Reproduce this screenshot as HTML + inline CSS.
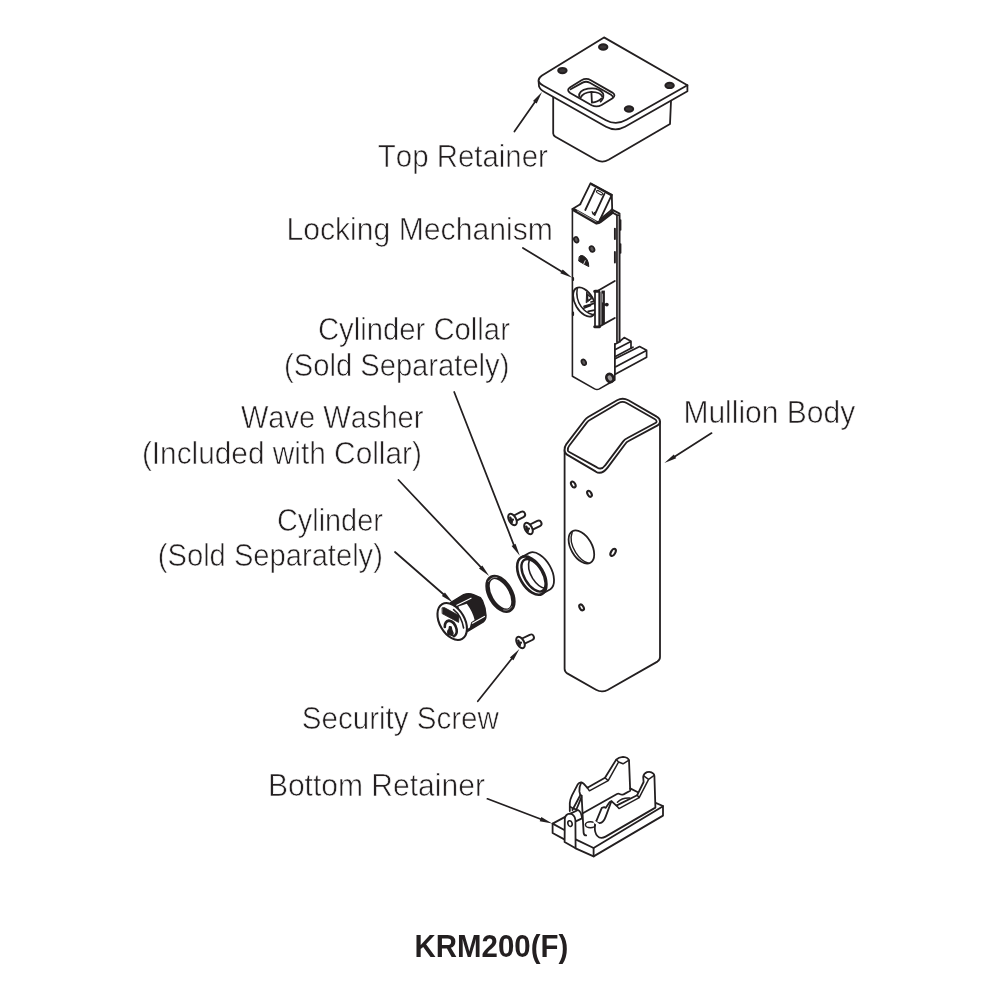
<!DOCTYPE html>
<html lang="en">
<head>
<meta charset="utf-8">
<title>KRM200(F)</title>
<style>
html,body{margin:0;padding:0;background:#fff;}
body{width:1000px;height:1000px;overflow:hidden;}
svg{display:block;will-change:transform;}
.ln{fill:none;stroke:#231f20;stroke-width:1.8;stroke-linecap:round;stroke-linejoin:round;}
.lbl{font-family:"Liberation Sans",sans-serif;fill:#231f20;font-kerning:none;stroke-linejoin:round;}
</style>
</head>
<body>
<svg width="1000" height="1000" viewBox="0 0 1000 1000" role="img" aria-label="KRM200(F) exploded parts diagram">
<rect width="1000" height="1000" fill="#fff"/>
<g class="ln" id="arrows">
<line x1="514.4" y1="131.6" x2="536.0" y2="100.5" stroke-width="1.75"/><polygon points="542.0,91.9 536.7,103.4 533.0,100.9" fill="#231f20" stroke="none"/>
<line x1="522.9" y1="248.0" x2="563.2" y2="272.4" stroke-width="1.75"/><polygon points="572.2,277.8 560.3,273.3 562.7,269.4" fill="#231f20" stroke="none"/>
<line x1="454.2" y1="392.0" x2="514.5" y2="546.7" stroke-width="1.75"/><polygon points="519.8,555.8 511.6,546.1 515.5,543.8" fill="#231f20" stroke="none"/>
<line x1="398.5" y1="480.0" x2="482.0" y2="568.4" stroke-width="1.75"/><polygon points="489.2,576.0 479.0,568.5 482.3,565.4" fill="#231f20" stroke="none"/>
<line x1="395.0" y1="552.0" x2="444.9" y2="595.5" stroke-width="1.75"/><polygon points="452.8,602.4 441.9,595.9 444.9,592.5" fill="#231f20" stroke="none"/>
<line x1="477.8" y1="701.2" x2="512.9" y2="657.2" stroke-width="1.75"/><polygon points="519.4,649.0 513.4,660.2 509.9,657.4" fill="#231f20" stroke="none"/>
<line x1="487.4" y1="798.8" x2="542.4" y2="819.8" stroke-width="1.75"/><polygon points="552.2,823.6 539.7,821.2 541.3,817.0" fill="#231f20" stroke="none"/>
<line x1="711.6" y1="433.1" x2="673.3" y2="457.4" stroke-width="1.75"/><polygon points="664.4,463.0 673.8,454.4 676.2,458.2" fill="#231f20" stroke="none"/>
</g>
<g class="ln" id="top_retainer">
<path d="M553.2,97 V133.6 Q553.2,135.4 555.4,136.8 L596.4,160 Q602.4,163.2 608.6,159.8 L670,124 L671,101" />
<path d="M538.6,81 L539,86.2 Q540,89.6 545,92.2 L606,126.8 Q615.5,132 625,126.8 L687.4,91.2 V85.2" fill="#fff"/>
<path d="M604,37.4 L687.4,85.2 L626.5,119.8 Q616,125.8 606,120.2 L543.5,85.8 Q534.5,80.8 542,75.6 Z" fill="#fff"/>
<g fill="#3a3637" stroke-width="2">
<ellipse cx="603.2" cy="47" rx="4.2" ry="2.7"/>
<ellipse cx="562.4" cy="70.6" rx="4.2" ry="2.7"/>
<ellipse cx="669.6" cy="85.4" rx="4.2" ry="2.7"/>
<ellipse cx="629" cy="109" rx="4.2" ry="2.7"/>
</g>
<path d="M570.2,87.2 L581.5,80.3 Q586.2,77.6 590.8,80.3 L612.4,92.6 Q616.4,95.4 612.6,98.2 L601.6,105 Q596.6,107.8 591.6,105.2 L570.2,93 Q566,90 570.2,87.2 Z"/>
<path d="M570.6,89.2 L582.6,82.6 Q586.2,80.8 589.8,82.8 L611,94.8 Q613,96 612.8,97.4"/>
<path d="M579.2,96.6 Q578.4,90.4 588,88.6 Q599,87 603,93.4 Q604.6,97.6 600.6,101.6"/>
<path d="M580.6,97.6 Q583,92.4 591.4,91.8 Q600.4,92 602.2,96.4"/>
<path d="M591.4,91.8 L591.9,102.6 M591.9,102.6 Q598,102 601.6,98.4"/>
</g>
<g class="ln" id="lock">
<path d="M572.4,209 V376.3 L594.6,388.9 Q597,390.2 599.4,388.9 L614.8,380 V344" fill="#fff" stroke-width="1.6"/>
<!-- back plate band -->
<path d="M618.3,214.2 V342.8" stroke="#231f20" stroke-width="4.4" stroke-linecap="butt"/>
<path d="M618.3,216 V341.6" stroke="#a5a2a3" stroke-width="1.2" stroke-linecap="butt"/>
<path d="M620.6,220 V230 M620.6,244 V253" stroke-width="1.6"/>
<path d="M614.9,228.6 V239 M614.9,252 V262.6" stroke-width="1.9"/>
<!-- latch bolt -->
<path d="M580.3,204.2 L590.6,183.2 L611.8,194.8 L612.2,209.4 L600,219.4" fill="#fff"/>
<path d="M591.6,184.4 L611,195" stroke-width="2.1"/>
<path d="M611.8,194.8 L600,219.6"/>
<path d="M595.2,188.8 L585.3,210 M604.5,193.6 L594.6,215"/>
<path d="M597.6,191.6 L601.4,193.7" stroke-width="3.4"/>
<path d="M597.7,191.7 L601.3,193.6" stroke="#fff" stroke-width="1.3"/>
<path d="M592.2,211.8 L593.2,214.4 L594.6,212.4" stroke-width="1.2"/>
<!-- body top -->
<path d="M572.4,209 L580.3,204.2"/>
<path d="M574.2,210 L596.4,222.6" stroke-width="3.7"/>
<path d="M597,222.6 Q598.6,222.8 599.8,221.8 L612.2,212.4" stroke-width="3.4"/>
<path d="M577.4,211 L596,221.6" stroke="#a9a7a7" stroke-width="0.9"/>
<path d="M611.6,209.4 L619.6,213.6 M611.8,212.2 L616.2,214.6"/>
<!-- holes -->
<g fill="#5c5859" stroke-width="1.7">
<ellipse cx="576.2" cy="239.8" rx="2.1" ry="2.9" transform="rotate(-25 576.2 239.8)"/>
<ellipse cx="592" cy="249" rx="2.3" ry="3" transform="rotate(-25 592 249)"/>
<ellipse cx="583.8" cy="362.2" rx="2.1" ry="3" transform="rotate(-25 583.8 362.2)"/>
</g>
<path d="M579.4,256.4 Q580.4,254.8 583,255.8 Q588.6,258.6 588.8,266.6 L584.6,264.4 L579,261.2 Z" fill="#231f20" stroke-width="1"/>
<path d="M585.2,260.6 L583.8,263.8" stroke="#eee" stroke-width="0.9"/>
<!-- left edge ticks -->
<path d="M573,278 V280 M573,312.6 V315" stroke-width="2.2"/>
<!-- cylinder hole -->
<ellipse cx="584.4" cy="302" rx="9.2" ry="16" stroke-width="1.8" transform="rotate(-30 584.4 302)"/>
<path d="M577.2,288.6 Q575.6,298.6 581,306.4 Q586,313.4 592.6,314.4" stroke-width="1.5"/>
<path d="M586.6,292.4 L586.2,302.8 L592,298.6 Z" fill="#231f20" stroke-width="1"/>
<path d="M588.2,296 L588.4,299.4 L590.6,298" fill="#fff" stroke="none"/>
<path d="M584,306.2 L593.4,303.6 M583.6,308.2 L590.6,305.4 M588.2,311.4 L594.6,310.2 M591,302 L594,301.4" stroke-width="1.7"/>
<!-- bracket box -->
<path d="M598.8,290.2 L614.8,281 M599.2,326.6 L614.8,318"/>
<path d="M595,290.6 H599.2 V327 H595 Z" fill="#fff" stroke-width="1.7"/>
<path d="M594.6,291.4 H598.4 M594.6,326.8 H599.6" stroke-width="2.8"/>
<path d="M603.2,290.6 V324" stroke-width="3.4" stroke-linecap="butt"/>
<path d="M600.9,292 V324.6" stroke-width="1"/>
<path d="M602.4,294 V302" stroke="#d9d8d8" stroke-width="0.7"/>
<circle cx="606.8" cy="304.6" r="1.9" fill="#231f20" stroke="none"/>
<path d="M604,304.6 H606" stroke-width="1.6"/>
<!-- tabs -->
<g stroke-width="1.7"><path d="M614.8,344.2 L618.4,342.4 M620.2,341 L624.2,337.6 L631,341.2 V348.2 L615.4,356.4 M615.4,349.4 L630.8,341.4"/>
<path d="M615.6,358.6 L639.6,346.6 L646.6,350.2 V357.2 L615.2,374.2 M615.8,366.8 L646.4,350.4 M631,348.2 L633,347.2"/>
<path d="M614.8,344 V374.6" stroke-width="1.3"/></g>
<!-- screw -->
<ellipse cx="609.9" cy="378" rx="3.4" ry="4.2" fill="#9a9798" stroke-width="2.7" transform="rotate(-25 609.9 378)"/>
</g>
<g class="ln" id="mullion">
<path d="M564.6,450 V668.8 Q564.6,671.8 567.2,673.4 L596,689.8 Q601.8,693 607.6,690 L657.4,661.6 Q660,660 660,657 V421.6" fill="#fff"/>
<path d="M564.6,450 Q564.6,446.6 566.2,444.4 L584.8,420 Q586.2,418.2 588.2,417 L617.1,400.2 Q622.6,397.2 628.4,400.2 L656.7,416.6 Q660,418.4 660,421.6 Q660,424.2 657.6,425.4 L628.6,441 Q626.6,442 625.4,443.8 L607.6,467.6 Q601.5,475.4 595.5,471.4 L567,454.6 Q564.6,453.2 564.6,450 Z" fill="#fff" stroke-width="1.85"/>
<path d="M567.8,450.2 Q567.8,447.6 569.2,445.8 L586.8,422.6 Q588,421 589.8,420 L618.6,403 Q622.6,400.8 626.6,403 L654.6,419 Q656.6,420.2 656.6,421.4 Q656.6,422.4 655.4,423 L627,438.2 Q624.6,439.4 623,441.6 L605,465.6 Q601.6,470.4 597,467.4 L569.2,452 Q567.8,451.4 567.8,450.2 Z" stroke-width="1.8"/>
<g stroke-width="2.1">
<ellipse cx="573.3" cy="484.5" rx="1.9" ry="3.2" transform="rotate(-30 573.3 484.5)"/>
<ellipse cx="589.5" cy="493.8" rx="1.9" ry="3.2" transform="rotate(-30 589.5 493.8)"/>
<ellipse cx="613.1" cy="552.4" rx="2.1" ry="3.9" stroke-width="2.1" transform="rotate(30 613.1 552.4)"/>
<ellipse cx="581.6" cy="607.4" rx="1.9" ry="3.2" transform="rotate(-30 581.6 607.4)"/>
</g>
<ellipse cx="581.4" cy="547" rx="10.45" ry="18.15" stroke-width="1.75" transform="rotate(-30 581.4 547)"/>
<path d="M572.2,532.2 Q568.8,541 575.6,552.4 Q581.4,561.6 588.6,563.2" stroke-width="1.4"/>
</g>
<g class="ln" id="screws">
<path d="M515.6,521.2 L523.5,517.1 A2.9,2.9 0 0 0 520.9,511.9 L513.0,516.0" fill="#fff" stroke-width="1.9"/><ellipse cx="512.5" cy="519.5" rx="3.5" ry="6.2" fill="#fff" stroke-width="2" transform="rotate(-30 512.5 519.5)"/><path d="M510.3,517.7 L511.9,521.9 M510.1,520.3 L512.9,519.7" stroke-width="2.4"/><path d="M531.6,530.2 L539.9,526.1 A2.9,2.9 0 0 0 537.3,520.9 L529.0,525.0" fill="#fff" stroke-width="1.9"/><ellipse cx="528.5" cy="528.5" rx="3.5" ry="6.2" fill="#fff" stroke-width="2" transform="rotate(-30 528.5 528.5)"/><path d="M526.3,526.7 L527.9,530.9 M526.1,529.3 L528.9,528.7" stroke-width="2.4"/><path d="M523.6,644.2 L532.3,640.0 A2.9,2.9 0 0 0 529.7,634.8 L521.0,639.0" fill="#fff" stroke-width="1.9"/><ellipse cx="520.5" cy="642.5" rx="3.5" ry="6.2" fill="#fff" stroke-width="2" transform="rotate(-30 520.5 642.5)"/><path d="M518.3,640.7 L519.9,644.9 M518.1,643.3 L520.9,642.7" stroke-width="2.4"/>
</g>
<g class="ln" id="collar">
<path d="M521.4,557.4 L529.6,552.8 A11.8,21 -30 0 1 550.4,589.2 L542.2,593.8" fill="#fff"/>
<ellipse cx="531.8" cy="575.6" rx="11.8" ry="21" fill="#fff" stroke-width="2.6" transform="rotate(-30 531.8 575.6)"/>
<ellipse cx="533.5" cy="575.3" rx="9.3" ry="18" stroke-width="2.4" transform="rotate(-30 533.5 575.3)"/>
<path d="M529.4,559.8 Q526.6,568.6 532.6,578.4 Q538.4,587.4 545.4,588.6" stroke-width="1.6"/>
</g>
<g class="ln" id="washer">
<ellipse cx="500.5" cy="593.8" rx="10.5" ry="18.5" stroke-width="4.4" transform="rotate(-30 500.5 593.8)"/>
<path d="M488.4,581.6 Q491.6,576.4 497,577.4 M511.6,606.6 Q509,611.4 503.6,610" stroke="#d8d6d6" stroke-width="0.6"/>
</g>
<g class="ln" id="cylinder">
<path d="M450.6,602.6 L463.6,594.6 Q468.6,592.6 473.4,594.6 L480.4,597.6 L482.6,601 Q485.6,607.6 486,615.6 Q486,620 483.4,621.8 L467.6,631.4 Z" fill="#231f20" stroke-width="1.4"/>
<path d="M458.4,606.4 L466.8,603.8 Q472.8,612 474.6,620 L471.2,622.2 L469.8,627.4 L465,630.4 Z" fill="#fff" stroke="none"/>
<path d="M456.8,605.2 L471,598.2 M472.4,623.2 L484.4,616.4" stroke="#fff" stroke-width="1.2"/>
<ellipse cx="452.2" cy="621.5" rx="12.5" ry="20" fill="#fff" stroke-width="2.1" transform="rotate(-30 452.2 621.5)"/>
<path d="M453.6,609.6 Q461.4,615.6 463.6,628" stroke-width="1.6"/>
<path d="M442.4,607.8 L444.4,607.6 L459,615.6 L458.6,622.4 L442.5,613.8 Z" fill="#231f20" stroke-width="0.8"/>
<path d="M444.8,627 Q444.6,621.4 449,620.6 Q454.6,621.4 456.6,629.2 Q457.4,634.6 453.8,636.2" stroke-width="2.6"/>
<path d="M448,634.4 Q447,630.6 449,629.2 L449.4,626.6 L451.2,626.8 L451.8,629.8 Q453.8,632.6 452.6,635.6 Z" fill="#231f20" stroke-width="1.2"/>
</g>
<g class="ln" id="bottom_retainer">
<!-- base -->
<path d="M552.6,823.6 V833 L564.8,839.6 M575.6,848.4 L593.6,856.4 L663,815.6 V806.2 L593.6,848 L575.6,839.4"/>
<path d="M593.6,848 V856.4"/>
<path d="M552.6,823.6 L564.8,830.2 M552.6,823.6 L565.6,816.6"/>
<path d="M655.6,802.8 L663,806"/>
<!-- back wall -->
<path d="M569.8,811 V803 Q570,799.6 572,795.4 L577.6,784.6 Q579.4,781.8 582,782.6 Q584,783.4 585,785.2 L587.4,787.8 L605,777.8 L616.2,759.6 Q618.6,757 623,756.8 Q628,757.2 629,760.2 L630.2,790.8 L623.6,794.4 Q621.4,795 619.6,794 Q618.4,793.4 617,794 L582.8,813.2" fill="#fff"/>
<path d="M587.4,787.8 L589.4,790.8 L608.2,780.6 L618.6,762 L623,763.8 L629,760.2 M605,777.8 L608.2,780.6 M616.4,759.8 L618.6,762" stroke-width="1.5"/>
<path d="M581.2,782.6 Q579.2,786.4 579.4,791.4 L580.2,794.6 L581.6,795.8"/>
<path d="M580.4,795 L572.4,810 M581.4,797.4 L576.6,809"/>
<path d="M570,806.6 Q572,808.4 576.6,809.6"/>
<path d="M581.6,795.8 L583.6,832.6 Q583.8,835.4 586.2,835.4"/>
<path d="M630.2,788.4 L637.4,792"/>
<!-- front wall -->
<path d="M596.2,821.4 L601.8,807.8 L604.2,807.2 L605.8,807.8 L609,803 Q610.4,800.8 612,801.6 L616.4,805.6 L637.2,795.2 L643.6,782 L643.2,777 Q643.6,773.6 647,772.2 Q650.6,771 653.4,773.6 Q654.4,774.6 654.4,776 L655.4,807.6 L605.6,836.6 Q600.6,839.4 597.4,836 Q594.6,833 594.8,826.6 Q595,823.6 596.2,821.4 Z" fill="#fff"/>
<path d="M611.4,801.2 L605.8,816.4 Q603.6,822.6 599.6,823.2 Q597,823.2 596.2,821.4" />
<path d="M616.4,805.6 L619,808.6 L639.2,797.6 L648.6,779.4 L644,776.2 M648.6,779.4 L654.2,775.4 M637.2,795.2 L639.2,797.6" stroke-width="1.5"/>
<path d="M617.4,802.2 Q622,797.6 629.6,798" stroke-width="1.5"/>
<ellipse cx="590.4" cy="824.8" rx="5" ry="3" stroke-width="1.5"/>
<path d="M594.6,822 L597.6,824" stroke="#fff" stroke-width="2.4"/>
<!-- lug -->
<path d="M570.4,813.6 L578,810 Q581.4,811.6 582,818.4 L575.2,821.6" fill="#fff"/>
<path d="M564.8,818.6 Q565.6,813.8 570,813.6 Q574.6,814.2 575.4,820 L575.6,848.2 L564.6,842 Z" fill="#fff"/>
<ellipse cx="570" cy="823.6" rx="2.1" ry="2.9" stroke-width="1.6" transform="rotate(-15 570 823.6)"/>
</g>
<g class="lbl" id="labels">
<text x="377.8" y="166.9" font-size="32.1" textLength="170.1" lengthAdjust="spacingAndGlyphs" stroke="#fff" stroke-width="0.62">Top Retainer</text>
<text x="286.4" y="240.3" font-size="32.1" textLength="266.5" lengthAdjust="spacingAndGlyphs" stroke="#fff" stroke-width="0.62">Locking Mechanism</text>
<text x="317.9" y="340.4" font-size="32.1" textLength="192.0" lengthAdjust="spacingAndGlyphs" stroke="#fff" stroke-width="0.62">Cylinder Collar</text>
<text x="284.0" y="375.9" font-size="32.1" textLength="225.4" lengthAdjust="spacingAndGlyphs" stroke="#fff" stroke-width="0.62">(Sold Separately)</text>
<text x="240.9" y="427.9" font-size="32.1" textLength="182.5" lengthAdjust="spacingAndGlyphs" stroke="#fff" stroke-width="0.62">Wave Washer</text>
<text x="141.9" y="463.9" font-size="32.1" textLength="280.0" lengthAdjust="spacingAndGlyphs" stroke="#fff" stroke-width="0.62">(Included with Collar)</text>
<text x="276.9" y="531.4" font-size="32.1" textLength="106.0" lengthAdjust="spacingAndGlyphs" stroke="#fff" stroke-width="0.62">Cylinder</text>
<text x="157.8" y="566.4" font-size="32.1" textLength="225.1" lengthAdjust="spacingAndGlyphs" stroke="#fff" stroke-width="0.62">(Sold Separately)</text>
<text x="301.8" y="729.4" font-size="32.1" textLength="197.1" lengthAdjust="spacingAndGlyphs" stroke="#fff" stroke-width="0.62">Security Screw</text>
<text x="267.9" y="795.8" font-size="32.1" textLength="217.0" lengthAdjust="spacingAndGlyphs" stroke="#fff" stroke-width="0.62">Bottom Retainer</text>
<text x="683.4" y="423.1" font-size="32.1" textLength="171.8" lengthAdjust="spacingAndGlyphs" stroke="#fff" stroke-width="0.62">Mullion Body</text>
<text x="414.6" y="956.9" font-size="31.2" font-weight="700" textLength="153.6" lengthAdjust="spacingAndGlyphs">KRM200(F)</text>
</g>
</svg>
</body>
</html>
